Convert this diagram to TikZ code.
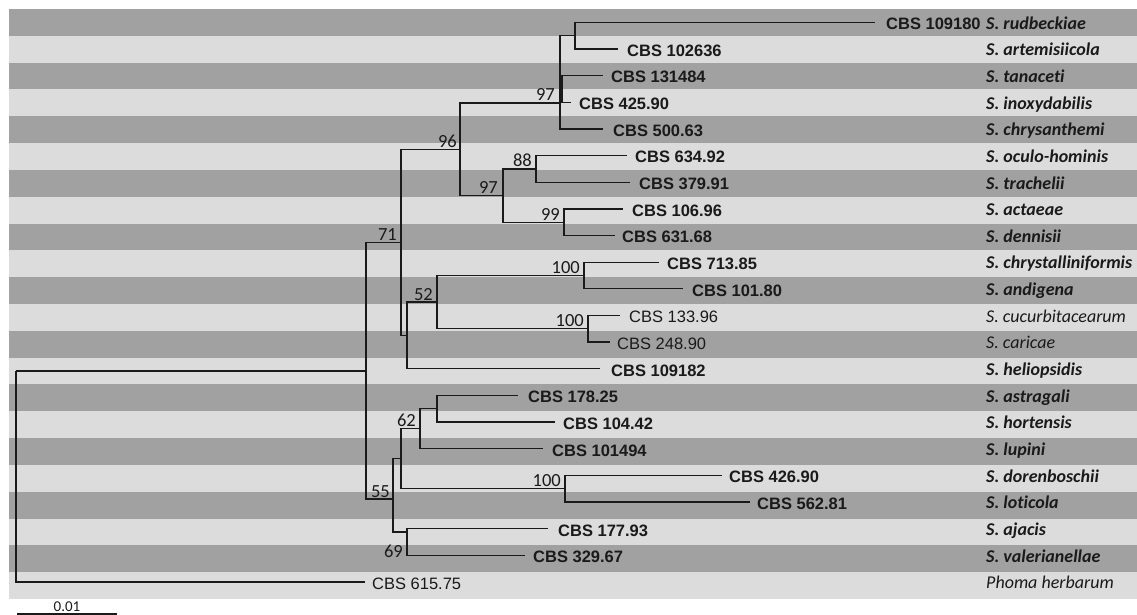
\documentclass[tikz,border=0pt]{standalone}
\usepackage{fontspec}
\setmainfont{Liberation Sans}
\newfontfamily\calib[Ligatures=NoCommon]{Carlito}
\definecolor{darkrow}{HTML}{A1A1A1}
\definecolor{lightrow}{HTML}{DCDCDC}
\definecolor{ink}{HTML}{1A1A1A}
\tikzset{
  br/.style={draw=ink, line width=1.3pt},
  cbs/.style={font=\fontsize{16.5}{18}\selectfont\bfseries, anchor=base west, inner sep=0pt, text=ink},
  cbsn/.style={font=\fontsize{16.5}{18}\selectfont, anchor=base west, inner sep=0pt, text=ink},
  spb/.style={font=\calib\fontsize{18}{20}\selectfont\bfseries\itshape, anchor=base west, inner sep=0pt, text=ink},
  spn/.style={font=\calib\fontsize{18}{20}\selectfont\itshape, anchor=base west, inner sep=0pt, text=ink},
  bs/.style={font=\calib\fontsize{18.5}{20}\selectfont, anchor=base east, inner sep=0pt, text=ink},
}
\begin{document}
\begin{tikzpicture}[x=1pt,y=-1pt]
\useasboundingbox (0,0) rectangle (1137,615);
% stripes
\foreach \i in {0,...,21}{
  \pgfmathtruncatemacro{\odd}{mod(\i,2)}
  \ifnum\odd=0 \def\col{darkrow}\else\def\col{lightrow}\fi
  \fill[\col] (9,{9+26.82*\i}) rectangle (1137,{9+26.82*(\i+1)});
}
% internal nodes
\coordinate (root) at (16,371);
\coordinate (ning) at (366,371);
\coordinate (n71) at (401,242.4);
\coordinate (n96) at (460,149.3);
\coordinate (n97a) at (560,103);
\coordinate (ntan) at (562,102.25);
\coordinate (rudart) at (575,35.6);
\coordinate (n97b) at (503,195.5);
\coordinate (n88) at (536,168.9);
\coordinate (n99) at (564,222.2);
\coordinate (nh) at (407,335.4);
\coordinate (n52) at (437,302.1);
\coordinate (n100a) at (584,275.5);
\coordinate (n100b) at (588,328.8);
\coordinate (n55) at (393,499);
\coordinate (nb) at (401,458.7);
\coordinate (n62) at (420,428.7);
\coordinate (nas) at (437,408.7);
\coordinate (n100c) at (565,488.7);
\coordinate (n69) at (407,532);
% tips
\coordinate (t0) at (875,22.3);
\coordinate (t1) at (618,48.95);
\coordinate (t2) at (603,75.6);
\coordinate (t3) at (571,102.25);
\coordinate (t4) at (603,128.9);
\coordinate (t5) at (627,155.55);
\coordinate (t6) at (630,182.2);
\coordinate (t7) at (623,208.85);
\coordinate (t8) at (615,235.5);
\coordinate (t9) at (659,262.15);
\coordinate (t10) at (683,288.8);
\coordinate (t11) at (620,315.45);
\coordinate (t12) at (610,342.1);
\coordinate (t13) at (600,368.75);
\coordinate (t14) at (518,395.4);
\coordinate (t15) at (555,422.05);
\coordinate (t16) at (543,448.7);
\coordinate (t17) at (722,475.35);
\coordinate (t18) at (750,502);
\coordinate (t19) at (548,528.65);
\coordinate (t20) at (525,555.3);
\coordinate (t21) at (365,581.95);
% branches
\draw[br] (root) |- (ning);
\draw[br] (root) |- (t21);
\draw[br] (ning) |- (n71);
\draw[br] (ning) |- (n55);
\draw[br] (n71) |- (n96);
\draw[br] (n71) |- (nh);
\draw[br] (n96) |- (n97a);
\draw[br] (n96) |- (n97b);
\draw[br] (n97a) |- (rudart);
\draw[br] (n97a) |- (t3);
\draw[br] (n97a) |- (t4);
\draw[br] (ntan) |- (t2);
\draw[br] (rudart) |- (t0);
\draw[br] (rudart) |- (t1);
\draw[br] (n97b) |- (n88);
\draw[br] (n97b) |- (n99);
\draw[br] (n88) |- (t5);
\draw[br] (n88) |- (t6);
\draw[br] (n99) |- (t7);
\draw[br] (n99) |- (t8);
\draw[br] (nh) |- (n52);
\draw[br] (nh) |- (t13);
\draw[br] (n52) |- (n100a);
\draw[br] (n52) |- (n100b);
\draw[br] (n100a) |- (t9);
\draw[br] (n100a) |- (t10);
\draw[br] (n100b) |- (t11);
\draw[br] (n100b) |- (t12);
\draw[br] (n55) |- (nb);
\draw[br] (n55) |- (n69);
\draw[br] (nb) |- (n62);
\draw[br] (nb) |- (n100c);
\draw[br] (n62) |- (nas);
\draw[br] (n62) |- (t16);
\draw[br] (nas) |- (t14);
\draw[br] (nas) |- (t15);
\draw[br] (n100c) |- (t17);
\draw[br] (n100c) |- (t18);
\draw[br] (n69) |- (t19);
\draw[br] (n69) |- (t20);
% support values
\node[bs] (b97a) at (555,101) {97};
\node[bs] (b96) at (457,147.3) {96};
\node[bs] (b97b) at (498,193.5) {97};
\node[bs] (b88) at (532,166.9) {88};
\node[bs] (b99) at (560,220.2) {99};
\node[bs] (b71) at (397,240.4) {71};
\node[bs] (b52) at (433,300.1) {52};
\node[bs] (b100a) at (580,273.5) {100};
\node[bs] (b100b) at (584,326.8) {100};
\node[bs] (b62) at (416,426.7) {62};
\node[bs] (b100c) at (561,486.7) {100};
\node[bs] (b55) at (390,497) {55};
\node[bs] (b69) at (403,557.5) {69};
% strain labels
\node[cbs] (c0) at (886,29.7) {CBS 109180};
\node[cbs] (c1) at (627,56.35) {CBS 102636};
\node[cbs] (c2) at (611,83) {CBS 131484};
\node[cbs] (c3) at (579,109.65) {CBS 425.90};
\node[cbs] (c4) at (613,136.3) {CBS 500.63};
\node[cbs] (c5) at (635,162.95) {CBS 634.92};
\node[cbs] (c6) at (639,189.6) {CBS 379.91};
\node[cbs] (c7) at (632,216.25) {CBS 106.96};
\node[cbs] (c8) at (622,242.9) {CBS 631.68};
\node[cbs] (c9) at (667,269.55) {CBS 713.85};
\node[cbs] (c10) at (692,296.2) {CBS 101.80};
\node[cbsn] (c11) at (629,322.85) {CBS 133.96};
\node[cbsn] (c12) at (617,349.5) {CBS 248.90};
\node[cbs] (c13) at (611,376.15) {CBS 109182};
\node[cbs] (c14) at (528,402.8) {CBS 178.25};
\node[cbs] (c15) at (563,429.45) {CBS 104.42};
\node[cbs] (c16) at (552,456.1) {CBS 101494};
\node[cbs] (c17) at (729,482.75) {CBS 426.90};
\node[cbs] (c18) at (757,509.4) {CBS 562.81};
\node[cbs] (c19) at (558,536.05) {CBS 177.93};
\node[cbs] (c20) at (533,562.7) {CBS 329.67};
\node[cbsn] (c21) at (372,589.35) {CBS 615.75};
% species
\node[spb] (s0) at (986,29.1) {S. rudbeckiae};
\node[spb] (s1) at (986,55.75) {S. artemisiicola};
\node[spb] (s2) at (986,82.4) {S. tanaceti};
\node[spb] (s3) at (986,109.05) {S. inoxydabilis};
\node[spb] (s4) at (986,135.7) {S. chrysanthemi};
\node[spb] (s5) at (986,162.35) {S. oculo-hominis};
\node[spb] (s6) at (986,189) {S. trachelii};
\node[spb] (s7) at (986,215.65) {S. actaeae};
\node[spb] (s8) at (986,242.3) {S. dennisii};
\node[spb] (s9) at (986,268.95) {S. chrystalliniformis};
\node[spb] (s10) at (986,295.6) {S. andigena};
\node[spn] (s11) at (986,322.25) {S. cucurbitacearum};
\node[spn] (s12) at (986,348.9) {S. caricae};
\node[spb] (s13) at (986,375.55) {S. heliopsidis};
\node[spb] (s14) at (986,402.2) {S. astragali};
\node[spb] (s15) at (986,428.85) {S. hortensis};
\node[spb] (s16) at (986,455.5) {S. lupini};
\node[spb] (s17) at (986,482.15) {S. dorenboschii};
\node[spb] (s18) at (986,508.8) {S. loticola};
\node[spb] (s19) at (986,535.45) {S. ajacis};
\node[spb] (s20) at (986,562.1) {S. valerianellae};
\node[spn] (s21) at (986,588.75) {Phoma herbarum};
% scale bar
\coordinate (sb1) at (17,614);
\coordinate (sb2) at (117,614);
\draw[draw=ink, line width=1.5pt] (sb1) -- (sb2);
\node[font=\calib\fontsize{15}{16}\selectfont, anchor=base, inner sep=0pt, text=ink] (sbl) at (67,611.5) {0.01};
\end{tikzpicture}
\end{document}
